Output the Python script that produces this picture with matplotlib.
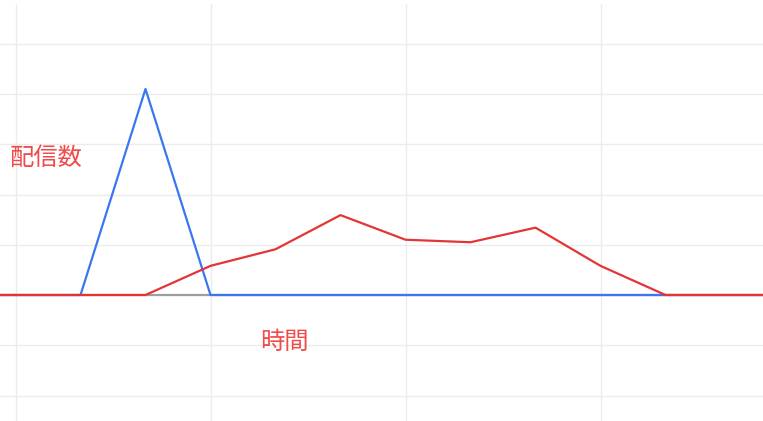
import matplotlib
matplotlib.use('Agg')

import numpy as np
import matplotlib.pyplot as plt

plt.rcParams['font.family'] = ['Noto Sans CJK JP', 'DejaVu Sans']

# data (time slots, first one is off the left edge)
slots = np.arange(14)
blue_counts = [0, 0, 0, 41, 0, 0, 0, 0, 0, 0, 0, 0, 0, 0]
red_counts = [0, 0, 0, 0, 5.8, 9.1, 15.9, 11.0, 10.5, 13.4, 5.8, 0, 0, 0]
gray_counts = [0] * 14

W, H = 763, 421
fig = plt.figure(figsize=(W / 100, H / 100), dpi=100)
ax = fig.add_axes([0, 0, 1, 417 / H])

# lines - drawn gray, blue, red so red sits on top
ax.plot(slots, gray_counts, c='#9e9e9e', linewidth=1.6, solid_capstyle='butt')
ax.plot(slots, blue_counts, c='#3a76f2', linewidth=1.6, solid_capstyle='butt')
ax.plot(slots, red_counts, c='#e33535', linewidth=1.6, solid_capstyle='butt')

# axis range mapped to the pixels of the picture
ax.set_xlim(1 - 15.5 / 65, 1 + 747.5 / 65)
ax.set_ylim(-126 / 5.025, 291 / 5.025)

# grid only, no ticks or frame
ax.set_xticks([1, 4, 7, 10])
ax.set_yticks(np.arange(-20, 60, 10))
ax.grid(True, color='#ececec', linewidth=1)
ax.set_axisbelow(True)
ax.tick_params(length=0, labelbottom=False, labelleft=False)
for s in ax.spines.values():
    s.set_visible(False)

# labels
fig.text(10 / W, 1 - 158 / H, '配信数', color='#f04a4a', fontsize=17.5, va='center', ha='left')
fig.text(284 / W, 1 - 342 / H, '時間', color='#f04a4a', fontsize=17.5, va='center', ha='center')

plt.savefig('out.png', dpi=100, facecolor='white')
plt.close('all')
